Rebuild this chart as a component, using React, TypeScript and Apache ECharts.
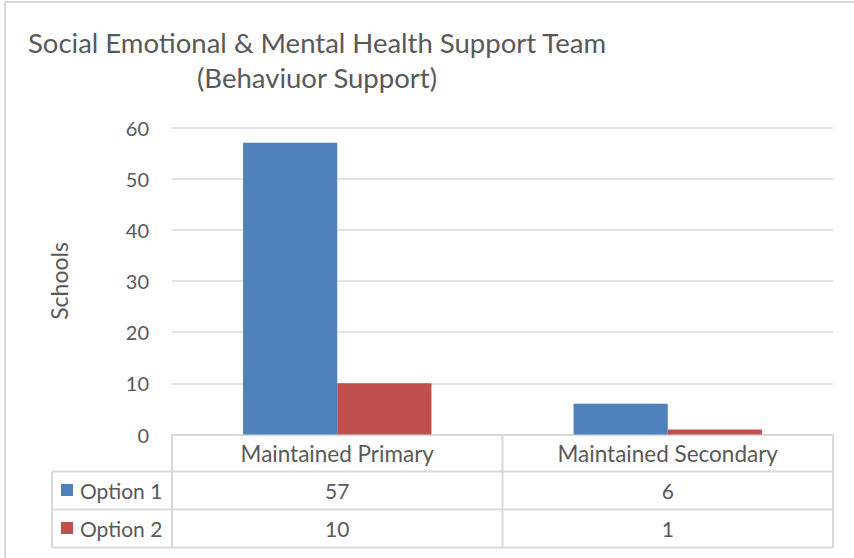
import React, { useEffect, useRef } from "react";
import * as echarts from "echarts";

const titleLines = ["Social Emotional & Mental Health Support Team", "(Behaviuor Support)"];
const categories = ["Maintained Primary", "Maintained Secondary"];
const seriesNames = ["Option 1", "Option 2"];
const option1 = [57, 6];
const option2 = [10, 1];
const seriesColors = ["#4F81BD", "#C0504D"];
const yMin = 0;
const yMax = 60;
const yInterval = 10;
const yName = "Schools";

const W = 854;
const H = 558;
const PL = 172;
const PR = 833;
const PT = 127.5;
const PB = 434.5;
const ROWS = [471.5, 509.5, 547.5];
const LEG_L = 52;
const FONT = "Lato, 'Open Sans', sans-serif";
const TXT = "#595959";
const LINE = "#D9D9D9";

export default function App() {
  const ref = useRef<HTMLDivElement>(null);
  useEffect(() => {
    if (!ref.current) return;
    const chart = echarts.init(ref.current, undefined, { renderer: "svg" });
    const values = [option1, option2];
    const n = categories.length;
    const cw = (PR - PL) / n;
    const ln = (x1: number, y1: number, x2: number, y2: number) => ({
      type: "line",
      shape: { x1, y1, x2, y2 },
      style: { stroke: LINE, lineWidth: 2 },
      silent: true,
    });
    const txt = (x: number, y: number, text: string, size: number, align = "center") => ({
      type: "text",
      x,
      y,
      style: {
        text,
        fill: TXT,
        font: `${size}px ${FONT}`,
        textAlign: align,
        textVerticalAlign: "middle",
      },
      silent: true,
    });
    const graphics: any[] = [];
    // frame
    graphics.push(ln(5, 2, W, 2));
    graphics.push(ln(5, 2, 5, H));
    // title
    graphics.push(txt(317, 42, titleLines[0], 27.5));
    graphics.push(txt(317, 77, titleLines[1], 27.5));
    // table lines
    ROWS.forEach((y) => graphics.push(ln(LEG_L, y, PR, y)));
    graphics.push(ln(LEG_L, ROWS[0], LEG_L, ROWS[2]));
    for (let i = 0; i <= n; i++) {
      const x = PL + i * cw;
      graphics.push(ln(x, PB, x, ROWS[2]));
    }
    // header
    categories.forEach((c, i) => {
      graphics.push(txt(PL + (i + 0.5) * cw, (PB + ROWS[0]) / 2, c, 22.5));
    });
    // rows
    seriesNames.forEach((s, r) => {
      const yc = (ROWS[r] + ROWS[r + 1]) / 2;
      graphics.push({
        type: "rect",
        shape: { x: 61, y: yc - 6.5, width: 12, height: 12 },
        style: { fill: seriesColors[r] },
        silent: true,
      });
      graphics.push(txt(80, yc, s, 21, "left"));
      values[r].forEach((v, i) => {
        graphics.push(txt(PL + (i + 0.5) * cw, yc, String(v), 21));
      });
    });

    chart.setOption({
      animation: false,
      grid: { left: PL, right: W - PR, top: PT, bottom: H - PB, containLabel: false },
      xAxis: {
        type: "category",
        data: categories,
        axisLine: { show: true, lineStyle: { color: LINE, width: 2 } },
        axisTick: { show: false },
        axisLabel: { show: false },
      },
      yAxis: {
        type: "value",
        min: yMin,
        max: yMax,
        interval: yInterval,
        name: yName,
        nameLocation: "middle",
        nameGap: 102,
        nameRotate: 90,
        nameTextStyle: { color: TXT, fontSize: 23, fontFamily: FONT },
        axisLine: { show: false },
        axisTick: { show: false },
        axisLabel: { color: TXT, fontSize: 20, fontFamily: FONT, margin: 23 },
        splitLine: { lineStyle: { color: LINE, width: 1.5 } },
      },
      series: seriesNames.map((s, r) => ({
        type: "bar",
        name: s,
        data: values[r],
        itemStyle: { color: seriesColors[r] },
        barGap: "0%",
        barCategoryGap: "43%",
      })),
      graphic: graphics,
    });
    return () => chart.dispose();
  }, []);
  return (
    <div
      ref={ref}
      style={{ position: "absolute", left: 0, top: 0, width: W, height: H, background: "#fff" }}
    />
  );
}
